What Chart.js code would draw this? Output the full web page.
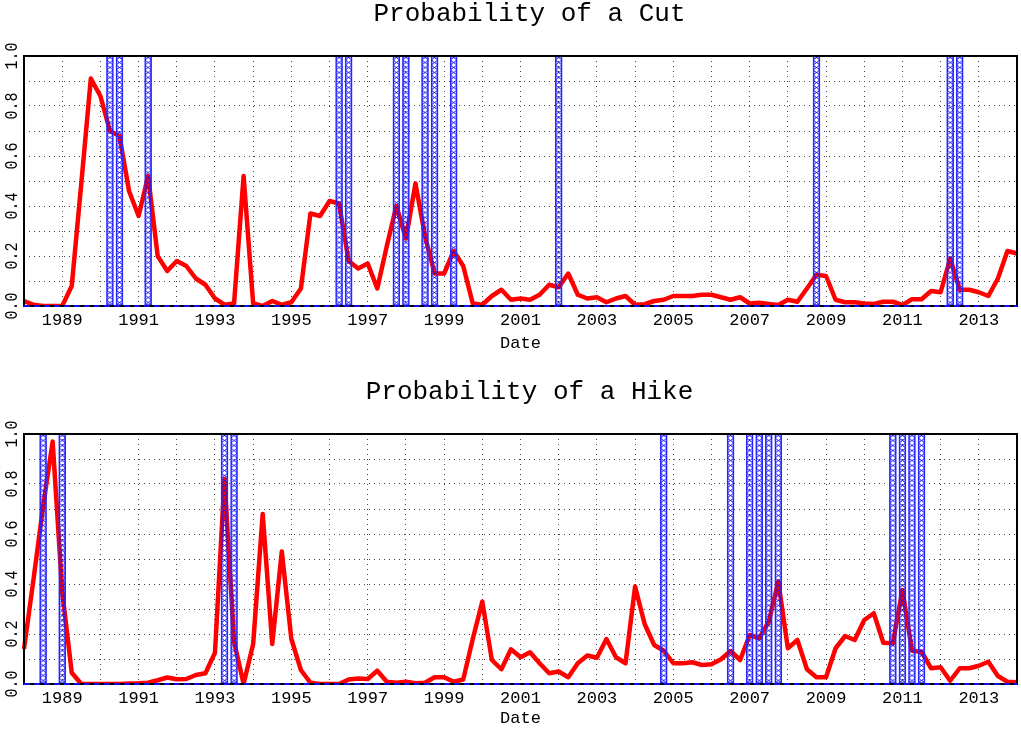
<!DOCTYPE html>
<html>
<head>
<meta charset="utf-8">
<script src="https://cdn.jsdelivr.net/npm/chart.js@4.4.1/dist/chart.umd.min.js"></script>
<style>
  body { margin: 0; background: #fff; }
  canvas { position: absolute; left: 0; }
  #cut_chart { top: 0; }
  #hike_chart { top: 378px; }
</style>
</head>
<body>
<canvas id="cut_chart" width="1021" height="354"></canvas>
<canvas id="hike_chart" width="1021" height="351"></canvas>
<script>
// quarterly dates, 1988Q1 .. 2014Q1
const quarters = [];
for (let yr = 1988; yr <= 2014; yr++) {
    for (let q = 1; q <= 4; q++) {
        if (yr === 2014 && q > 1) break;
        quarters.push(yr + "Q" + q);
    }
}

const yTickLabels = ["0.0", "0.2", "0.4", "0.6", "0.8", "1.0"];

const cutProb = [
    0.02, 0.005, 0.0, 0.0, 0.0, 0.08, 0.49, 0.91, 0.84, 0.70, 0.68, 0.46, 0.36,
    0.52, 0.20, 0.14, 0.18, 0.16, 0.11, 0.085, 0.03, 0.005, 0.01, 0.52, 0.01, 0.0,
    0.02, 0.005, 0.015, 0.07, 0.37, 0.36, 0.42, 0.41, 0.18, 0.15, 0.17, 0.07, 0.24,
    0.40, 0.27, 0.49, 0.28, 0.13, 0.13, 0.22, 0.16, 0.01, 0.005, 0.04, 0.065, 0.025,
    0.03, 0.025, 0.045, 0.085, 0.075, 0.13, 0.045, 0.03, 0.035, 0.015, 0.03, 0.04,
    0.005, 0.007, 0.02, 0.025, 0.04, 0.04, 0.04, 0.045, 0.045, 0.035, 0.025, 0.035,
    0.01, 0.013, 0.008, 0.004, 0.025, 0.017, 0.07, 0.125, 0.12, 0.025, 0.015, 0.015,
    0.01, 0.008, 0.017, 0.017, 0.004, 0.027, 0.027, 0.06, 0.055, 0.19, 0.065, 0.065,
    0.055, 0.04, 0.11, 0.22, 0.21
];

const hikeProb = [
    0.14, 0.42, 0.71, 0.97, 0.37, 0.045, 0.0, 0.0, 0.0, 0.0, 0.0, 0.002, 0.003,
    0.005, 0.015, 0.026, 0.019, 0.02, 0.036, 0.043, 0.125, 0.82, 0.17, 0.0, 0.16, 0.68,
    0.16, 0.53, 0.18, 0.056, 0.005, 0.0, 0.0, 0.0, 0.018, 0.022, 0.02, 0.053, 0.009,
    0.005, 0.009, 0.003, 0.005, 0.027, 0.027, 0.009, 0.018, 0.18, 0.33, 0.096, 0.059,
    0.139, 0.107, 0.127, 0.083, 0.043, 0.05, 0.027, 0.083, 0.114, 0.105, 0.18, 0.107,
    0.083, 0.39, 0.24, 0.156, 0.133, 0.083, 0.083, 0.087, 0.076, 0.079, 0.099, 0.132,
    0.096, 0.196, 0.183, 0.249, 0.41, 0.143, 0.176, 0.059, 0.027, 0.027, 0.143, 0.192,
    0.176, 0.256, 0.283, 0.165, 0.163, 0.376, 0.133, 0.129, 0.063, 0.067, 0.013, 0.063,
    0.063, 0.073, 0.089, 0.032, 0.009, 0.007
];

// quarters with an actual move (hatched bars)
const cutEvents = ["1990Q2", "1990Q3", "1991Q2", "1996Q2", "1996Q3", "1997Q4", "1998Q1",
    "1998Q3", "1998Q4", "1999Q2", "2002Q1", "2008Q4", "2012Q2", "2012Q3"];
const hikeEvents = ["1988Q3", "1989Q1", "1993Q2", "1993Q3", "2004Q4", "2006Q3", "2007Q1",
    "2007Q2", "2007Q3", "2007Q4", "2010Q4", "2011Q1", "2011Q2", "2011Q3"];

const MONO = "'Liberation Mono', 'DejaVu Sans Mono', monospace";

// small cross-hatch tile for the event bars
const tile = document.createElement("canvas");
tile.width = 7;
tile.height = 5;
(function() {
    const c = tile.getContext("2d");
    c.strokeStyle = "#1010ff";
    c.lineWidth = 1;
    c.beginPath();
    c.moveTo(0, 0); c.lineTo(7, 5);
    c.moveTo(7, 0); c.lineTo(0, 5);
    c.stroke();
})();

function hatchFill(ctx) {
    if (ctx.dataIndex === undefined) return "transparent";
    const chart = ctx.chart;
    const p = chart.ctx.createPattern(tile, "repeat");
    const x = chart.scales.x.getPixelForValue(ctx.dataIndex);
    p.setTransform(new DOMMatrix([1, 0, 0, 1, x - 3.5, 0]));
    return p;
}

const decorPlugin = {
    id: "decor",
    afterDatasetsDraw(chart) {
        const {ctx, chartArea: a, scales: {y}} = chart;
        ctx.save();
        ctx.strokeStyle = "#000";
        ctx.lineWidth = 2;
        ctx.strokeRect(a.left, a.top, a.right - a.left, a.bottom - a.top);
        // zero line
        const y0 = y.getPixelForValue(0);
        ctx.strokeStyle = "#1010e0";
        ctx.setLineDash([6, 4]);
        ctx.beginPath();
        ctx.moveTo(a.left, y0);
        ctx.lineTo(a.right, y0);
        ctx.stroke();
        ctx.restore();
    },
    afterDraw(chart) {
        const {ctx, chartArea: a, scales: {y}} = chart;
        ctx.save();
        ctx.fillStyle = "#000";
        ctx.textAlign = "center";
        ctx.textBaseline = "middle";
        ctx.font = "15px " + MONO;
        yTickLabels.forEach(t => {
            ctx.save();
            ctx.translate(a.left - 11.5, y.getPixelForValue(parseFloat(t)));
            ctx.rotate(-Math.PI / 2);
            ctx.scale(1, 1.2);
            ctx.fillText(t, 0, 0);
            ctx.restore();
        });
        ctx.font = "26px " + MONO;
        ctx.fillText(chart.options.plugins.decor.title, (a.left + a.right) / 2 + 9, 14);
        ctx.restore();
    }
};

function makeChart(id, title, values, events, axisH) {
    return new Chart(document.getElementById(id), {
        type: "line",
        data: {
            labels: quarters,
            datasets: [{
                type: "bar",
                data: quarters.map(q => events.includes(q) ? 1 : null),
                barThickness: 7,
                backgroundColor: hatchFill,
                borderColor: "#2a2aff",
                borderWidth: 1,
                borderSkipped: false,
                order: 0
            }, {
                type: "line",
                data: values,
                borderColor: "#ff0000",
                borderWidth: 4.5,
                borderJoinStyle: "round",
                pointRadius: 0,
                tension: 0,
                order: 1
            }]
        },
        options: {
            responsive: false,
            animation: false,
            layout: { padding: { top: 56, right: 2, left: 0, bottom: 0 } },
            plugins: {
                legend: { display: false },
                tooltip: { enabled: false },
                decor: { title: title }
            },
            scales: {
                x: {
                    offset: false,
                    grid: {
                        offset: false,
                        drawTicks: false,
                        color: c => c.index % 4 === 0 ? "#444" : "transparent"
                    },
                    border: { display: false, dash: [1, 4] },
                    ticks: {
                        autoSkip: false,
                        maxRotation: 0,
                        padding: 4,
                        color: "#000",
                        font: { family: MONO, size: 17 },
                        callback: (v, i) => i % 8 === 4 ? quarters[i].slice(0, 4) : ""
                    },
                    title: {
                        display: true,
                        text: "Date",
                        color: "#000",
                        font: { family: MONO, size: 17 },
                        padding: 0
                    },
                    afterFit: s => { s.height = axisH; }
                },
                y: {
                    min: 0,
                    max: 1,
                    ticks: { stepSize: 0.1, display: false },
                    grid: { color: "#444", drawTicks: false },
                    border: { display: false, dash: [1, 4] },
                    afterFit: s => { s.width = 24; }
                }
            }
        },
        plugins: [decorPlugin]
    });
}

makeChart("cut_chart", "Probability of a Cut", cutProb, cutEvents, 48);
makeChart("hike_chart", "Probability of a Hike", hikeProb, hikeEvents, 45);
</script>
</body>
</html>
